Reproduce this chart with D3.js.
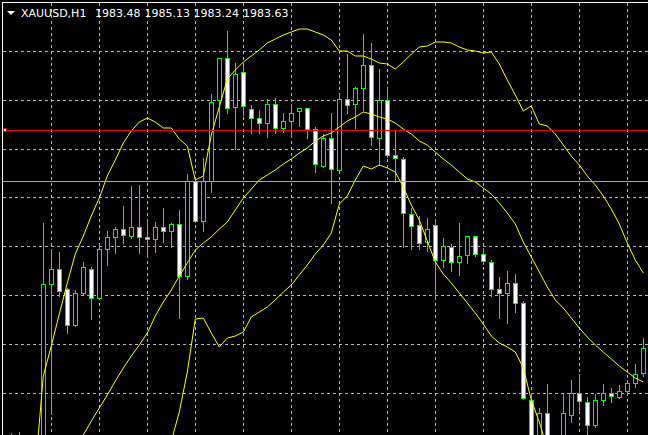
<!DOCTYPE html>
<html><head><meta charset="utf-8">
<script src="https://cdn.jsdelivr.net/npm/d3@7/dist/d3.min.js"></script>
<style>html,body{margin:0;padding:0;background:#000;}svg{display:block;}</style>
</head><body>
<svg id="chart" width="648" height="435"></svg>
<script>
// ---- data (XAUUSD H1), bar 1 .. 80 ----
const symbol = "XAUUSD,H1";
const quote = ["1983.48", "1985.13", "1983.24", "1983.63"];
const opens = [1957.70,1957.10,1957.90,1956.20,1954.90,1973.30,1974.80,1972.80,1969.20,1972.40,
1974.80,1971.90,1976.80,1978.00,1978.80,1978.10,1979.00,1978.00,1977.80,1979.00,
1978.60,1979.30,1974.10,1983.60,1979.60,1983.60,1991.70,1995.90,1991.00,1994.50,
1990.80,1989.90,1989.40,1991.30,1988.90,1989.60,1990.60,1990.90,1988.80,1985.10,
1987.90,1984.70,1991.80,1991.30,1992.90,1995.20,1987.90,1991.70,1986.20,1985.80,
1980.30,1979.20,1977.50,1979.20,1975.70,1977.00,1975.50,1976.20,1978.10,1976.30,
1975.50,1972.80,1972.40,1973.40,1971.40,1961.70,1957.20,1960.40,1957.50,1957.10,
1960.20,1962.40,1961.50,1959.20,1961.70,1962.40,1962.00,1962.60,1963.40,1964.40];
const highs = [1958.50,1958.60,1958.10,1957.70,1979.50,1976.90,1976.60,1973.00,1972.80,1975.60,
1975.10,1977.40,1978.70,1979.10,1981.20,1983.20,1983.30,1979.90,1979.60,1981.00,
1979.50,1980.80,1984.40,1984.10,1986.00,1992.40,1995.90,1998.70,1995.50,1995.20,
1991.30,1990.80,1991.90,1992.00,1990.50,1991.40,1990.90,1991.00,1989.10,1988.40,
1990.50,1992.40,1996.40,1993.10,1998.40,1997.50,1994.90,1993.00,1988.80,1986.10,
1981.00,1980.20,1980.00,1979.90,1978.00,1977.40,1979.50,1978.20,1978.20,1977.00,
1975.80,1974.10,1974.70,1974.40,1971.70,1962.50,1961.00,1963.40,1957.90,1962.40,
1963.80,1964.40,1962.10,1962.40,1963.40,1963.00,1963.30,1963.80,1965.40,1968.00];
const lows = [1956.50,1956.20,1955.70,1954.70,1954.50,1960.30,1972.10,1968.40,1969.10,1972.30,
1969.80,1971.80,1975.20,1976.40,1977.40,1977.90,1976.40,1976.00,1976.50,1977.50,
1977.00,1969.90,1973.80,1979.50,1978.60,1982.50,1989.00,1990.40,1986.80,1990.20,
1988.40,1988.40,1988.00,1988.40,1988.50,1988.00,1989.10,1987.90,1984.50,1985.00,
1981.40,1984.60,1990.40,1988.90,1990.70,1987.20,1985.20,1986.00,1983.50,1977.00,
1976.80,1976.80,1976.60,1972.00,1975.00,1974.60,1974.20,1975.40,1976.10,1975.30,
1972.10,1969.90,1969.40,1970.50,1961.80,1956.20,1956.70,1956.20,1955.70,1956.70,
1959.50,1960.60,1957.90,1959.00,1961.20,1961.50,1961.90,1962.40,1963.00,1964.10];
const closes = [1957.10,1957.90,1956.20,1954.90,1973.30,1974.80,1972.60,1969.20,1972.40,1975.00,
1971.90,1976.80,1978.00,1978.80,1978.20,1979.00,1978.00,1977.80,1979.00,1978.60,
1979.30,1974.10,1983.60,1979.60,1983.60,1991.50,1995.90,1990.90,1994.30,1991.10,
1989.90,1989.40,1991.30,1988.90,1989.60,1990.40,1990.90,1988.80,1985.30,1987.90,
1984.80,1991.80,1991.20,1992.90,1995.20,1988.00,1991.70,1986.20,1985.90,1980.40,
1979.10,1977.40,1978.80,1975.70,1977.10,1975.50,1976.10,1978.10,1976.30,1975.60,
1972.80,1972.40,1973.40,1971.40,1961.90,1957.20,1960.40,1957.50,1957.10,1960.40,
1962.40,1961.60,1959.20,1961.70,1962.40,1962.10,1962.60,1963.40,1964.30,1966.90];
// Bollinger bands (null = not on screen)
const upperBand = [null,null,null,1954.7,1964.1,1967.1,1970.3,1973.4,1976.3,1978.1,
1980.1,1981.9,1984.1,1985.7,1987.4,1988.6,1989.5,1989.9,1989.5,1988.9,
1988.9,1987.8,1987.1,1983.7,1984.1,1988.2,1991.0,1993.8,1994.7,1995.5,
1996.1,1996.7,1997.4,1997.8,1998.2,1998.5,1998.8,1998.8,1998.5,1998.2,
1997.7,1996.6,1996.6,1996.1,1996.1,1995.8,1995.4,1995.3,1994.8,1995.5,
1996.3,1997.0,1997.1,1997.5,1997.5,1997.4,1997.0,1996.7,1996.6,1996.4,
1996.5,1995.3,1993.7,1992.2,1990.6,1991.1,1989.3,1989.1,1988.3,1987.2,
1986.1,1985.2,1984.1,1983.2,1982.1,1980.8,1979.3,1977.4,1975.7,1974.4];
const middleBand = [null,null,null,null,null,null,null,null,1956.7,1958.2,
1959.6,1960.9,1962.2,1963.6,1964.9,1966.1,1967.2,1968.4,1970.1,1971.5,
1972.7,1974.1,1975.4,1976.7,1977.4,1978.0,1978.8,1979.5,1980.7,1981.9,
1982.8,1983.7,1984.2,1984.7,1985.3,1985.8,1986.4,1986.9,1987.6,1988.1,
1988.4,1989.0,1989.6,1990.0,1990.5,1990.3,1990.0,1989.8,1989.4,1988.8,
1988.3,1987.6,1987.2,1986.5,1985.8,1985.2,1984.5,1983.8,1983.5,1982.9,
1982.3,1981.4,1980.4,1979.3,1977.5,1976.0,1974.5,1973.0,1971.7,1970.9,
1969.9,1968.9,1968.0,1967.2,1966.5,1965.8,1965.1,1964.5,1963.9,1963.5];
const lowerBand = [null,null,null,null,null,null,null,null,null,null,
null,null,null,null,null,null,null,null,null,null,
1957.6,1960.5,1964.5,1969.8,1969.9,1968.4,1967.0,1967.9,1968.1,1968.5,
1970.0,1970.5,1971.0,1971.7,1972.5,1973.2,1974.2,1975.2,1976.3,1977.2,
1978.4,1981.3,1982.1,1983.7,1985.1,1984.8,1985.2,1984.9,1984.5,1983.0,
1981.2,1979.7,1977.6,1975.5,1974.3,1973.4,1972.4,1971.4,1970.4,1969.3,
1968.1,1967.4,1967.0,1966.5,1964.9,1961.7,1959.5,1956.9,null,null,
null,null,null,null,null,null,null,null,null,null];
const gridPrices = [1996.63,1991.74,1986.85,1981.96,1977.07,1972.18,1967.29,1962.40];
const gridBars = [6,12,18,24,30,36,42,48,54,60,66,72,78];
const bidPrice = 1983.63;
const hLinePrice = 1988.7;

// ---- drawing ----
const W = 648, H = 435;
const svg = d3.select("#chart");
const bars = d3.range(1, opens.length + 1);
const x = d3.scaleLinear().domain([0, 80]).range([3.3, 643.3]);
const y = d3.scaleLinear().domain([2001.7, 1958.2]).range([0, 435]);
const px = k => Math.floor(x(k)) + 0.5;
const py = p => Math.round(y(p)) + 0.5;

svg.append("rect").attr("width", W).attr("height", H).attr("fill", "#000");

const grid = svg.append("g").attr("stroke", "#b8b8b8").attr("stroke-width", 1)
  .attr("stroke-dasharray", "3,3").attr("shape-rendering", "crispEdges");
grid.selectAll("line.h").data(gridPrices).join("line").attr("class", "h")
  .attr("x1", 3).attr("x2", W).attr("y1", d => py(d)).attr("y2", d => py(d));
grid.selectAll("line.v").data(gridBars).join("line").attr("class", "v")
  .attr("x1", d => px(d)).attr("x2", d => px(d)).attr("y1", 3).attr("y2", H);

// candles
const cg = svg.append("g").attr("shape-rendering", "crispEdges");
const candle = cg.selectAll("g").data(bars).join("g");
candle.append("line")
  .attr("x1", k => px(k)).attr("x2", k => px(k))
  .attr("y1", k => py(highs[k-1])).attr("y2", k => py(lows[k-1]))
  .attr("stroke", "#00ff00");
candle.append("rect")
  .attr("x", k => px(k) - 2).attr("width", 4)
  .attr("y", k => py(Math.max(opens[k-1], closes[k-1])))
  .attr("height", k => Math.max(0, py(Math.min(opens[k-1], closes[k-1])) - py(Math.max(opens[k-1], closes[k-1]))))
  .attr("fill", k => closes[k-1] >= opens[k-1] ? "#000" : "#ffffff")
  .attr("stroke", "#00ff00");

// bands
const bandLine = arr => d3.line().defined(k => arr[k-1] != null)
  .x(k => x(k)).y(k => y(arr[k-1]));
[upperBand, middleBand, lowerBand].forEach(arr => {
  svg.append("path").datum(bars).attr("d", bandLine(arr))
    .attr("fill", "none").attr("stroke", "#ffff00").attr("stroke-width", 1);
});

// bid line and horizontal line object
svg.append("line").attr("x1", 3).attr("x2", W).attr("y1", py(bidPrice)).attr("y2", py(bidPrice))
  .attr("stroke", "#a8a8a8").attr("shape-rendering", "crispEdges");
svg.append("line").attr("x1", 3).attr("x2", W).attr("y1", py(hLinePrice)).attr("y2", py(hLinePrice))
  .attr("stroke", "#e00000").attr("stroke-width", 1).attr("shape-rendering", "crispEdges");
svg.append("rect").attr("x", 3.5).attr("y", py(hLinePrice) - 2).attr("width", 3).attr("height", 3)
  .attr("fill", "#fff").attr("stroke", "#e00000").attr("shape-rendering", "crispEdges");

// frame
svg.append("line").attr("x1", 2.5).attr("x2", 2.5).attr("y1", 2).attr("y2", H)
  .attr("stroke", "#fff").attr("shape-rendering", "crispEdges");
svg.append("line").attr("x1", 2).attr("x2", W).attr("y1", 2.5).attr("y2", 2.5)
  .attr("stroke", "#fff").attr("shape-rendering", "crispEdges");

// title
const tg = svg.append("g").attr("fill", "#fff").attr("font-family", "'DejaVu Sans', Verdana, sans-serif")
  .attr("font-size", 11);
tg.append("path").attr("d", "M7,11 L15,11 L11,15 Z").attr("fill", "#fff");
tg.append("text").attr("x", 21).attr("y", 17).text(symbol);
const qx = [95, 144.5, 193.5, 243];
tg.selectAll("text.q").data(quote).join("text").attr("class", "q")
  .attr("x", (d, i) => qx[i]).attr("y", 17).text(d => d);
</script>
</body></html>
